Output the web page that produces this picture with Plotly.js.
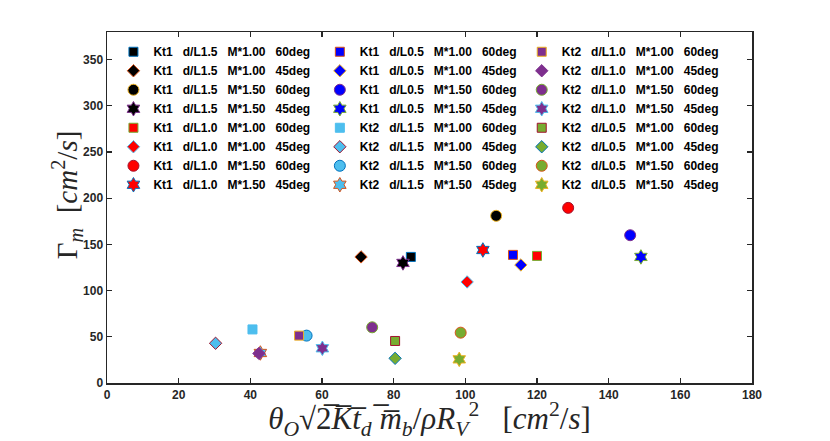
<!DOCTYPE html>
<html>
<head>
<meta charset="utf-8">
<script src="https://cdn.plot.ly/plotly-3.0.1.min.js"></script>
<style>
  html, body { margin: 0; padding: 0; background: #fff; }
  #chart { width: 830px; height: 441px; }
</style>
</head>
<body>
<div id="chart"></div>
<script>
'use strict';

// series labels, in legend order (three columns of eight)
const labels = [
	'Kt1  d/L1.5  M*1.00  60deg', 'Kt1  d/L1.5  M*1.00  45deg',
	'Kt1  d/L1.5  M*1.50  60deg', 'Kt1  d/L1.5  M*1.50  45deg',
	'Kt1  d/L1.0  M*1.00  60deg', 'Kt1  d/L1.0  M*1.00  45deg',
	'Kt1  d/L1.0  M*1.50  60deg', 'Kt1  d/L1.0  M*1.50  45deg',
	'Kt1  d/L0.5  M*1.00  60deg', 'Kt1  d/L0.5  M*1.00  45deg',
	'Kt1  d/L0.5  M*1.50  60deg', 'Kt1  d/L0.5  M*1.50  45deg',
	'Kt2  d/L1.5  M*1.00  60deg', 'Kt2  d/L1.5  M*1.00  45deg',
	'Kt2  d/L1.5  M*1.50  60deg', 'Kt2  d/L1.5  M*1.50  45deg',
	'Kt2  d/L1.0  M*1.00  60deg', 'Kt2  d/L1.0  M*1.00  45deg',
	'Kt2  d/L1.0  M*1.50  60deg', 'Kt2  d/L1.0  M*1.50  45deg',
	'Kt2  d/L0.5  M*1.00  60deg', 'Kt2  d/L0.5  M*1.00  45deg',
	'Kt2  d/L0.5  M*1.50  60deg', 'Kt2  d/L0.5  M*1.50  45deg'
];

// one point per series
const xVals = [
	84.8, 70.9, 108.6, 82.6,
	120.0, 100.5, 128.7, 104.9,
	113.3, 115.5, 146.0, 149.0,
	40.6, 30.3, 55.7, 42.8,
	53.6, 42.4, 74.0, 60.1,
	80.4, 80.4, 98.7, 98.3
];
const yVals = [
	136.5, 136.5, 181.0, 130.0,
	137.6, 109.4, 189.6, 144.0,
	138.7, 127.8, 160.0, 136.5,
	58.0, 43.0, 51.3, 32.5,
	51.3, 32.0, 60.3, 37.6,
	45.5, 26.7, 54.5, 25.6
];

// styling
const fillColors = ['#000000', '#FF0000', '#0000FF', '#4DBEEE', '#7E2F8E', '#77AC30'];
const edgeCycle = ['#0072BD', '#D95319', '#EDB120', '#7E2F8E', '#77AC30', '#4DBEEE', '#A2142F'];
const symbols = ['square', 'diamond', 'circle', 'hexagram'];
const sizes = [9, 9.5, 11, 11];

const traces = labels.map(function(name, i) {
	const col = Math.floor(i / 8);
	return {
		x: [xVals[i]],
		y: [yVals[i]],
		type: 'scatter',
		mode: 'markers',
		name: name.replace(/  /g, '\u00A0\u00A0\u00A0'),
		legend: col === 0 ? 'legend' : 'legend' + (col + 1),
		marker: {
			symbol: symbols[i % 4],
			size: sizes[i % 4],
			color: fillColors[Math.floor(i / 4)],
			line: { color: edgeCycle[i % 7], width: 1 }
		}
	};
});

const tickFont = { family: 'Liberation Sans, Arial, sans-serif', size: 12, color: '#262626', weight: 700 };
const legendFont = { family: 'Liberation Sans, Arial, sans-serif', size: 12, color: '#000000', weight: 700 };
const titleFont = { family: 'Liberation Serif, Times New Roman, serif', size: 29, color: '#262626' };

function legendAt(x) {
	return {
		x: x, y: 0.985, xanchor: 'left', yanchor: 'top',
		bgcolor: 'rgba(255,255,255,0)', borderwidth: 0,
		font: legendFont, orientation: 'v', tracegroupgap: 0
	};
}

// overline each character under the square root
function bar(s) {
	return s.split('').map(function(c) { return c + '\u0305'; }).join('');
}

const nb = '\u00A0';
const layout = {
	width: 830,
	height: 441,
	margin: { l: 107, r: 78, t: 32, b: 58 },
	paper_bgcolor: '#ffffff',
	plot_bgcolor: '#ffffff',
	showlegend: true,
	legend: legendAt(0.01),
	legend2: legendAt(0.33),
	legend3: legendAt(0.643),
	xaxis: {
		range: [0, 180],
		tickvals: [0, 20, 40, 60, 80, 100, 120, 140, 160, 180],
		ticks: 'inside', ticklen: 5, tickwidth: 1.2, tickcolor: '#262626',
		showline: true, linecolor: '#262626', linewidth: 1.5, mirror: 'ticks',
		showgrid: false, zeroline: false,
		tickfont: tickFont,
		title: {
			text: '<i>θ<sub>O</sub></i>√' + bar('2') + '<i>' + bar('Kt') + '<sub>d</sub>' + bar(nb + 'm') + '<sub>b</sub></i>/<i>ρR<sub>V</sub></i><sup>2</sup>' + nb + nb + nb + '[<i>cm</i><sup>2</sup>/<i>s</i>]',
			font: { family: titleFont.family, size: 31, color: titleFont.color },
			standoff: 6
		}
	},
	yaxis: {
		range: [0, 380],
		tickvals: [0, 50, 100, 150, 200, 250, 300, 350],
		ticks: 'inside', ticklen: 5, tickwidth: 1.2, tickcolor: '#262626',
		showline: true, linecolor: '#262626', linewidth: 1.5, mirror: 'ticks',
		showgrid: false, zeroline: false,
		tickfont: tickFont
	},
	annotations: [{
		text: 'Γ<sub><i>m</i></sub>' + nb + nb + '[<i>cm</i><sup>2</sup>/<i>s</i>]',
		xref: 'paper', yref: 'paper',
		x: -0.062, y: 0.535,
		xanchor: 'center', yanchor: 'middle',
		textangle: -90,
		showarrow: false,
		font: titleFont
	}]
};

Plotly.newPlot('chart', traces, layout, { displayModeBar: false, staticPlot: true });
</script>
</body>
</html>
